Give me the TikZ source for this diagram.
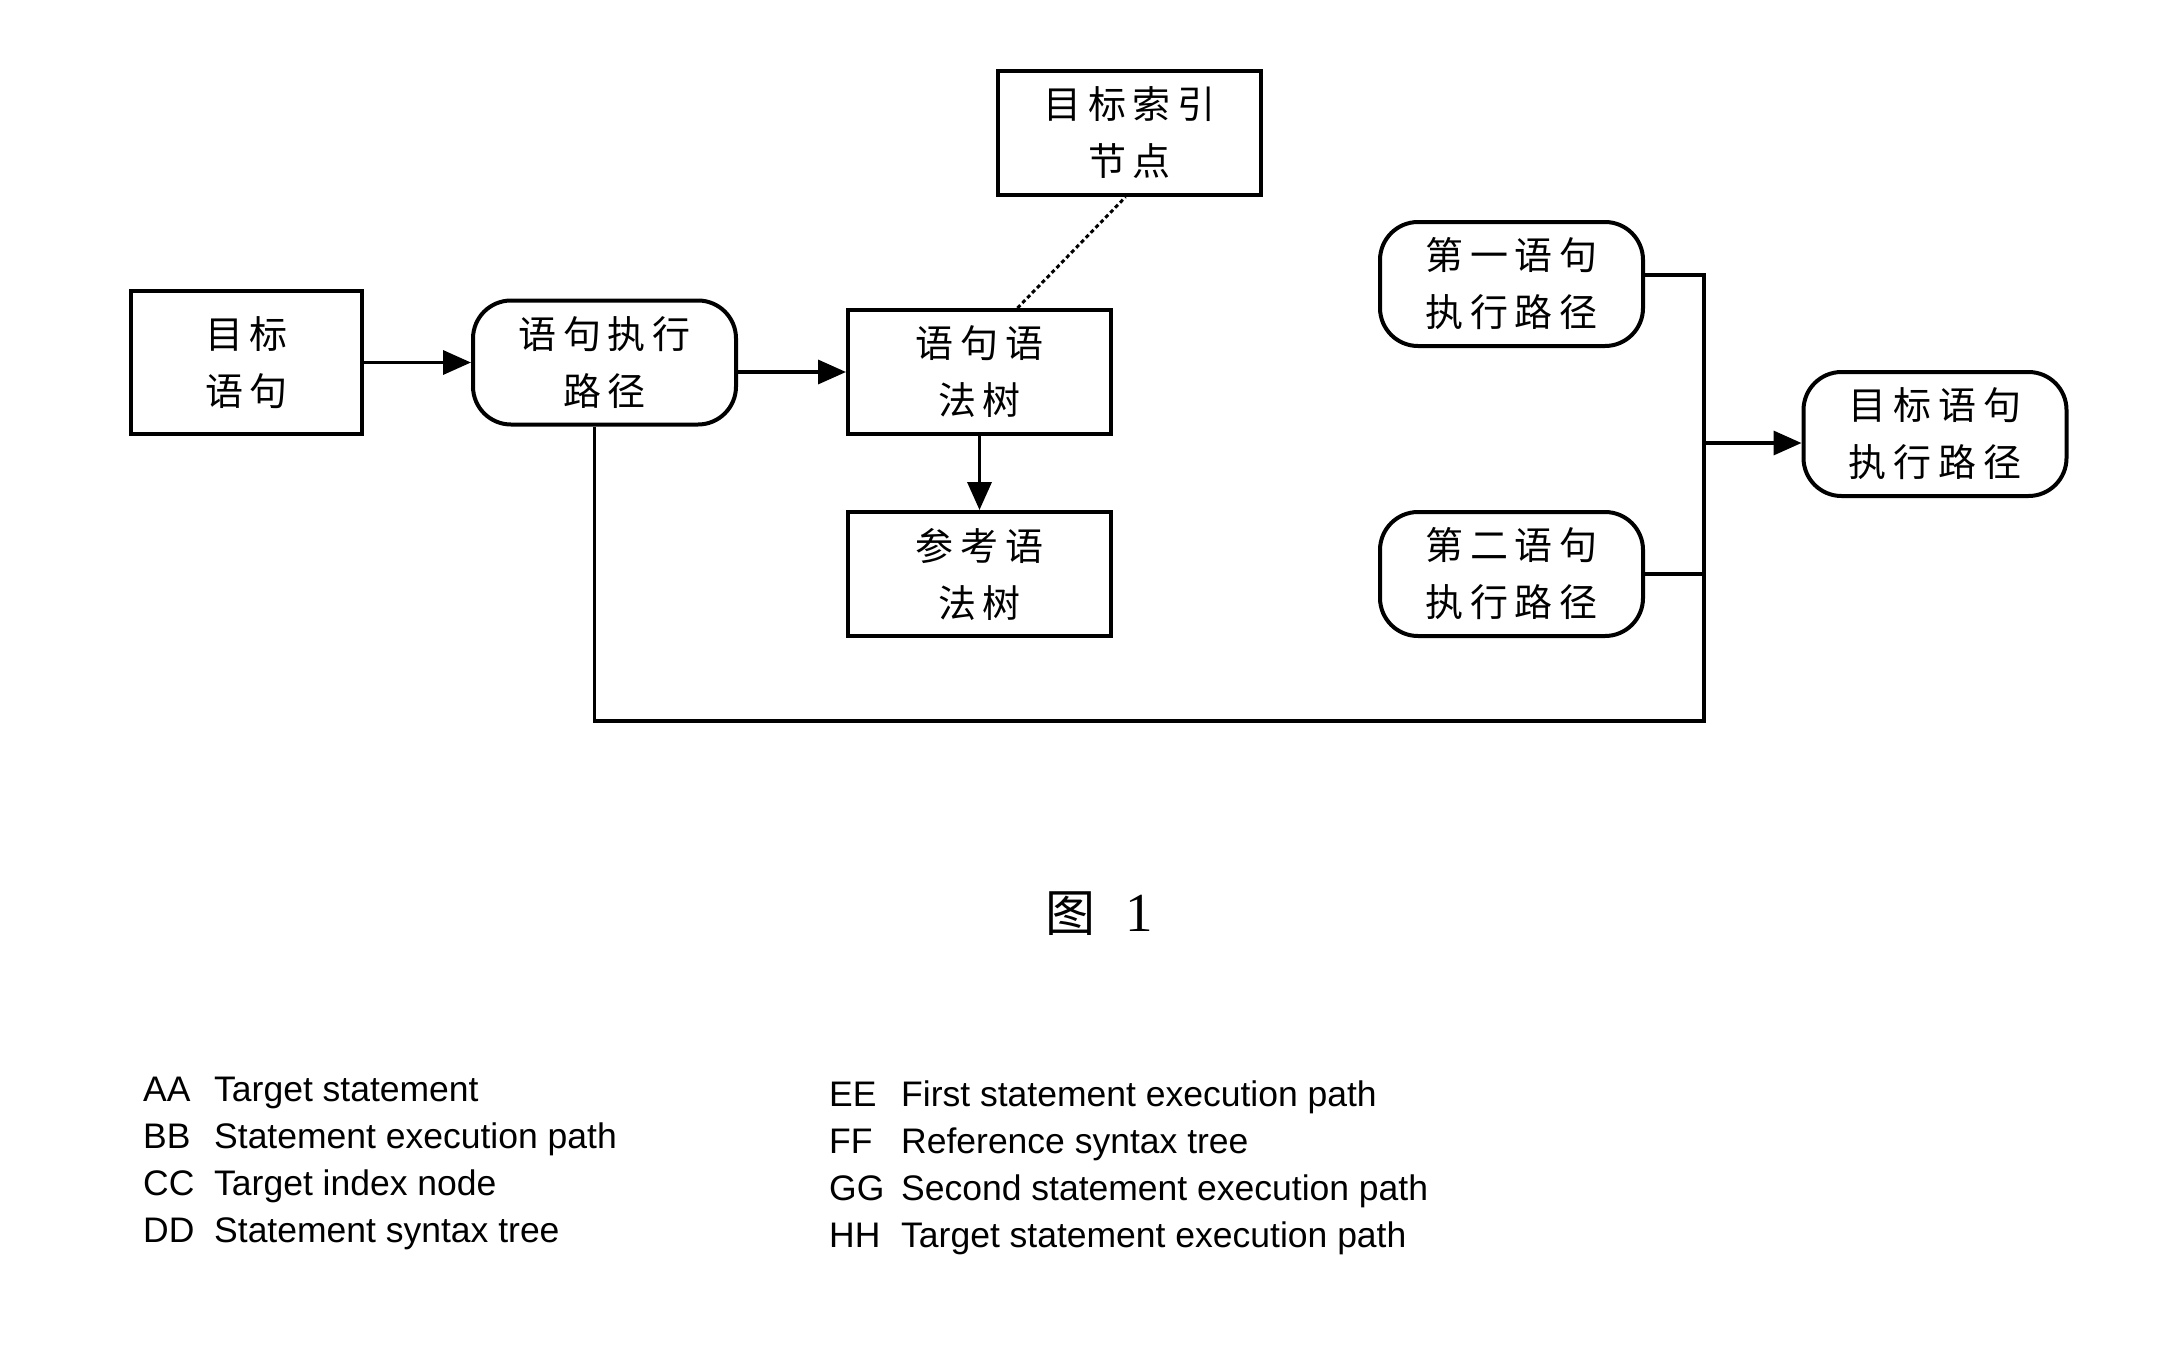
\documentclass[tikz,border=0pt]{standalone}
\usepackage{fontspec}
\setmainfont{Liberation Sans}
\newfontfamily\cjk[LetterSpace=18]{Noto Sans CJK SC}
\newfontfamily\cjkfig{Noto Sans CJK SC}
\newfontfamily\serifnum{Liberation Serif}
\usetikzlibrary{arrows.meta,calc}

\tikzset{
  box/.style={draw, line width=4pt, minimum width=263pt, minimum height=124pt,
    inner sep=0pt, align=center, font=\cjk\fontsize{38}{57}\selectfont},
  rbox/.style={box, rounded corners=38pt},
  line/.style={line width=3.5pt},
  arrow/.style={line, -{Triangle[length=28pt,width=24pt]}},
  legend/.style={anchor=base west, inner sep=0pt, font=\fontsize{35.5}{40}\selectfont},
}

\begin{document}
\begin{tikzpicture}[x=1pt, y=-1pt]
  % Fix the page size
  \useasboundingbox (0,0) rectangle (2178,1360);

  % Define the boxes
  \node[box, minimum width=231pt, minimum height=143pt] (tgt) at (246.5,362.5) {目标\\语句};
  \node[rbox] (path) at (604.5,362.5) {语句执行\\路径};
  \node[box] (tree) at (979.5,372) {语句语\\法树};
  \node[box] (idx) at (1129.5,133) {目标索引\\节点};
  \node[box] (ref) at (979.5,574) {参考语\\法树};
  \node[rbox] (first) at (1511.5,284) {第一语句\\执行路径};
  \node[rbox] (second) at (1511.5,574) {第二语句\\执行路径};
  \node[rbox] (result) at (1935,434) {目标语句\\执行路径};

  % Arrows between the boxes
  \draw[arrow] (tgt.east) -- (path.west);
  \draw[arrow] (path.east |- tree.west) -- (tree.west);
  \draw[arrow] (tree.south) -- (ref.north);
  \draw[line, line width=3pt, dash pattern=on 4pt off 3pt] ($(tree.north)+(38,0)$) -- ($(idx.south)+(-4,0)$);

  % Collect the paths on one bus
  \coordinate (jn) at (1704,443);
  \coordinate (low) at (1704,721);
  \draw[line] ($(first.east)+(0,-9)$) -| (low) -| ($(path.south)+(-10,0)$);
  \draw[line] (second.east) -- (second.east -| low);
  \draw[arrow] (jn) -- (jn -| result.west);

  % Figure caption
  \node[inner sep=0pt] (cap) at (1099,914)
    {\cjkfig\fontsize{50}{52}\selectfont 图\hspace{30pt}{\serifnum\fontsize{55}{56}\selectfont 1}};

  % Legend
  \foreach \k/\t [count=\i from 0] in {AA/Target statement, BB/Statement execution path,
      CC/Target index node, DD/Statement syntax tree} {
    \node[legend] (l\k) at (143,1101+47*\i) {\k};
    \node[legend] (t\k) at (214,1101+47*\i) {\t};
  }
  \foreach \k/\t [count=\i from 0] in {EE/First statement execution path, FF/Reference syntax tree,
      GG/Second statement execution path, HH/Target statement execution path} {
    \node[legend] (l\k) at (829,1106+47*\i) {\k};
    \node[legend] (t\k) at (901,1106+47*\i) {\t};
  }
\end{tikzpicture}
\end{document}
